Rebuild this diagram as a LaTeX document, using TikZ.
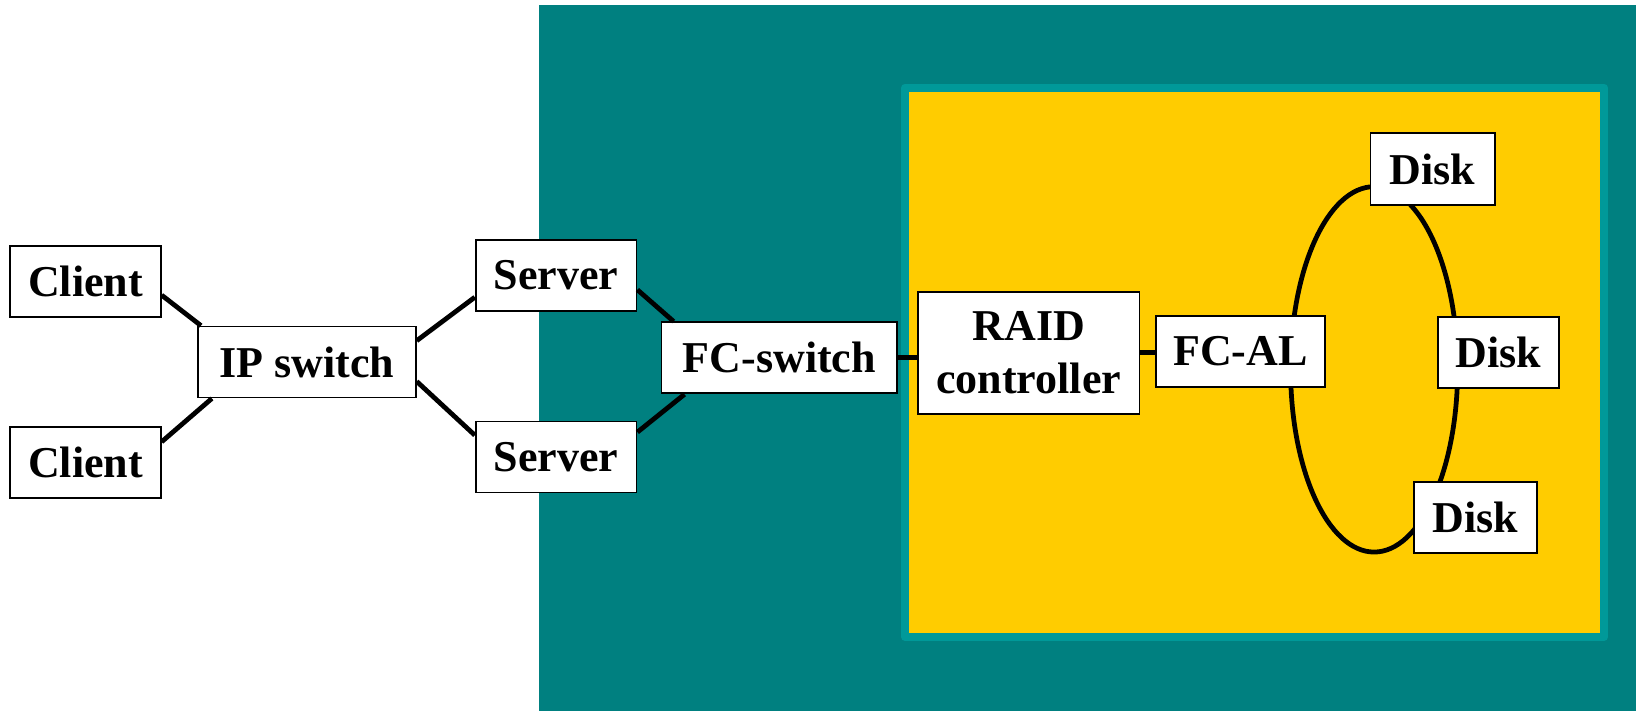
\documentclass[tikz,border=0pt]{standalone}
\usepackage{fontspec}
\setmainfont{Liberation Serif}
\definecolor{sanbg}{HTML}{008080}
\definecolor{rimcol}{HTML}{009999}
\definecolor{arraybg}{HTML}{FFCC00}

\begin{document}
\begin{tikzpicture}[x=0.01cm,y=-0.01cm]
      \tikzset{box/.style={draw,fill=white,line width=.5pt,inner sep=0pt,
          minimum height=0.68cm,font=\bfseries\fontsize{12}{14.5}\selectfont}}
      \tikzset{link/.style={line width=1.3pt}}
      \useasboundingbox (0,0) rectangle (1568,681);
      % storage network and disk array
      \fill[sanbg] (517,5) rectangle (1568,681);
      \draw[rimcol,fill=arraybg,line width=0.075cm,line join=round] (867.5,84) rectangle (1537.5,610.5);
      \draw[link] (1317,354) ellipse [x radius=0.80cm,y radius=1.75cm];
      % boxes
      \node[box,minimum width=1.44cm] (client1) at (82,270) {Client};
      \node[box,minimum width=1.44cm] (client2) at (82,443) {Client};
      \node[box,minimum width=2.09cm] (ipsw) at (294,347) {IP switch};
      \node[box,minimum width=1.54cm] (server1) at (533,264) {Server};
      \node[box,minimum width=1.54cm] (server2) at (533,438) {Server};
      \node[box,minimum width=2.26cm] (fcsw) at (747,343) {FC-switch};
      \node[box,minimum width=2.12cm,minimum height=1.17cm,align=center] (raid) at (986,338) {RAID\\controller};
      \node[box,minimum width=1.62cm] (fcal) at (1189,337) {FC-AL};
      \node[box,minimum width=1.19cm,minimum height=0.69cm] (disk1) at (1373,162) {Disk};
      \node[box,minimum width=1.16cm] (disk2) at (1436,338) {Disk};
      \node[box,minimum width=1.18cm] (disk3) at (1414,496) {Disk};
      % links
      \draw[link] (client1.-10) -- (ipsw.161);
      \draw[link] (client2.15) -- (ipsw.201);
      \draw[link] (ipsw.11) -- (server1.195);
      \draw[link] (ipsw.-10) -- (server2.165);
      \draw[link] (server1.-10) -- (fcsw.161);
      \draw[link] (server2.17) -- (fcsw.201);
      \draw[link] (fcsw.east) -- (fcsw.east -| raid.west);
      \draw[link] (raid.east) -- (raid.east -| fcal.west);
\end{tikzpicture}
\end{document}
